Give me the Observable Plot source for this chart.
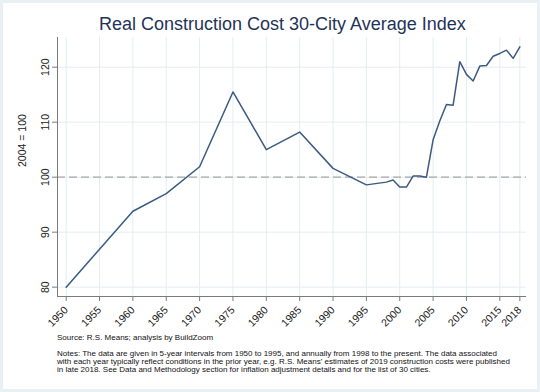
<!DOCTYPE html>
<html>
<head>
<meta charset="utf-8">
<script src="https://cdn.jsdelivr.net/npm/d3@7"></script>
<script src="https://cdn.jsdelivr.net/npm/@observablehq/plot@0.6"></script>
<style>
  html, body { margin: 0; padding: 0; background: #e9f0f3; }
  #wrap { position: relative; width: 540px; height: 392px; background: #e9f0f3; overflow: hidden;
          font-family: "Liberation Sans", Arial, Helvetica, sans-serif; }
  #card { position: absolute; left: 3px; top: 3px; width: 534px; height: 386px; background: #ffffff; }
  #title { position: absolute; left: 99px; top: 15px; text-align: left;
           font-size: 18px; line-height: 18px; color: #1f3358; white-space: nowrap; }
  #chart { position: absolute; left: 0; top: 30px; }
  #source { position: absolute; left: 57px; top: 334px; font-size: 8px; line-height: 8.2px; color: #111; white-space: nowrap; }
  #notes { position: absolute; left: 57px; top: 350px; font-size: 8px; line-height: 8.2px; color: #111; white-space: nowrap; }
</style>
</head>
<body>
<div id="wrap">
  <div id="card"></div>
  <div id="title">Real Construction Cost 30-City Average Index</div>
  <div id="chart"></div>
  <div id="source">Source: R.S. Means; analysis by BuildZoom</div>
  <div id="notes">Notes: The data are given in 5-year intervals from 1950 to 1995, and annually from 1998 to the present. The data associated<br>with each year typically reflect conditions in the prior year, e.g. R.S. Means' estimates of 2019 construction costs were published<br>in late 2018. See Data and Methodology section for inflation adjustment details and for the list of 30 cities.</div>
</div>
<script>
const years = [1950, 1955, 1960, 1965, 1970, 1975, 1980, 1985, 1990, 1995,
               1998, 1999, 2000, 2001, 2002, 2003, 2004, 2005, 2006, 2007, 2008,
               2009, 2010, 2011, 2012, 2013, 2014, 2015, 2016, 2017, 2018];
const index = [80.0, 86.9, 93.8, 97.0, 101.9, 115.5, 105.0, 108.2, 101.6, 98.6,
               99.1, 99.5, 98.2, 98.2, 100.2, 100.2, 100.0, 106.8, 110.2, 113.2, 113.1,
               121.0, 118.7, 117.5, 120.2, 120.3, 122.0, 122.5, 123.1, 121.6, 123.7];
const xTicks = [1950, 1955, 1960, 1965, 1970, 1975, 1980, 1985, 1990, 1995, 2000, 2005, 2010, 2015, 2018];
const yTicks = [80, 90, 100, 110, 120];
const baseValue = 100;
const yLabel = "2004 = 100";

const data = years.map((y, i) => ({year: y, value: index[i]}));
const xDomain = [1948.7, 2019.0];
const yDomain = [78.3, 125.4];

const chart = Plot.plot({
  width: 540,
  height: 300,
  marginLeft: 57,
  marginRight: 14,
  marginTop: 7,
  marginBottom: 34,
  style: {fontFamily: "Liberation Sans, Arial, Helvetica, sans-serif", fontSize: "10.5px", color: "#222", background: "transparent"},
  x: {domain: xDomain, axis: null},
  y: {domain: yDomain, axis: null},
  marks: [
    Plot.gridX(xTicks, {stroke: "#e3edf1", strokeOpacity: 1, strokeWidth: 1}),
    Plot.gridY(yTicks, {stroke: "#e3edf1", strokeOpacity: 1, strokeWidth: 1}),
    Plot.ruleY([baseValue], {stroke: "#a6a6a6", strokeWidth: 1.2, strokeDasharray: "8,4"}),
    Plot.ruleX([xDomain[0]], {stroke: "#7a7a7a", strokeWidth: 1}),
    Plot.ruleY([yDomain[0]], {stroke: "#7a7a7a", strokeWidth: 1}),
    Plot.axisX(xTicks, {anchor: "bottom", tickSize: 5, tickRotate: -45, tickFormat: d => String(d), stroke: "#7a7a7a", fill: "#222", label: null}),
    Plot.axisY(yTicks, {anchor: "left", tickSize: 5, tickRotate: -90, tickFormat: d => String(d), stroke: "#7a7a7a", fill: "#222", label: null}),
    Plot.text([yLabel], {frameAnchor: "left", rotate: -90, dx: -35, fill: "#222", fontSize: 10.5}),
    Plot.line(data, {x: "year", y: "value", stroke: "#3a5a82", strokeWidth: 1.5})
  ]
});
document.getElementById("chart").appendChild(chart);
</script>
</body>
</html>
